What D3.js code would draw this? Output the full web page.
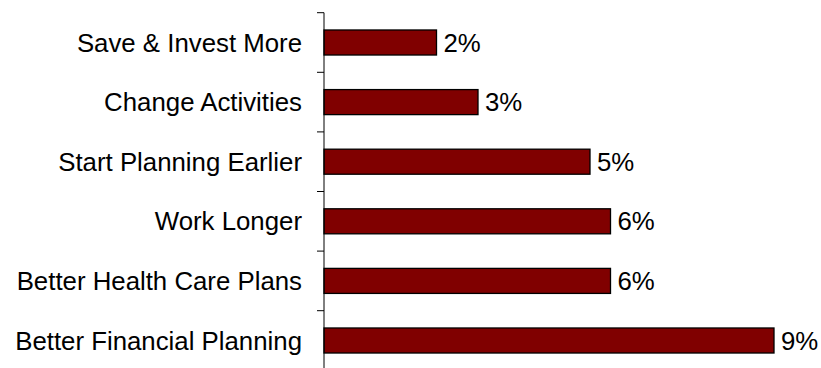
<!DOCTYPE html>
<html>
<head>
<meta charset="utf-8">
<script src="https://cdn.jsdelivr.net/npm/d3@7"></script>
<style>
  html, body { margin: 0; padding: 0; background: #fff; }
  svg { display: block; }
  text { font-family: "Liberation Sans", Arial, sans-serif; fill: #000; }
</style>
</head>
<body>
<svg id="chart" width="821" height="368"></svg>
<script>
// Reasons listed top to bottom
const categories = [
  "Save & Invest More",
  "Change Activities",
  "Start Planning Earlier",
  "Work Longer",
  "Better Health Care Plans",
  "Better Financial Planning"
];
// Share of respondents (fractions)
const values = [0.0225, 0.0308, 0.0532, 0.0573, 0.0573, 0.09];

const svg = d3.select("#chart");
const margin = { top: 12.7, left: 324 };
const plotW = 500;   // width that corresponds to 10%
const plotH = 357.6;
const fontSize = 25.8;

const x = d3.scaleLinear().domain([0, 0.10]).range([0, plotW]);
const y = d3.scaleBand()
  .domain(categories)
  .range([0, plotH])
  .paddingInner(0.58)
  .paddingOuter(0.29);

const g = svg.append("g").attr("transform", `translate(${margin.left},${margin.top})`);

// Bars
g.selectAll("rect.bar")
  .data(values)
  .join("rect")
  .attr("class", "bar")
  .attr("x", 0)
  .attr("y", (d, i) => y(categories[i]))
  .attr("width", d => x(d))
  .attr("height", y.bandwidth())
  .attr("fill", "#800000")
  .attr("stroke", "#000")
  .attr("stroke-width", 1.3);

// Value labels
const fmt = d3.format(".0%");
g.selectAll("text.val")
  .data(values)
  .join("text")
  .attr("class", "val")
  .attr("x", d => x(d) + 7)
  .attr("y", (d, i) => y(categories[i]) + y.bandwidth() / 2)
  .attr("dy", "0.35em")
  .attr("font-size", fontSize)
  .text(d => fmt(d));

// Category axis: vertical line with ticks at band boundaries
const step = y.step();
const boundaries = d3.range(categories.length + 1).map(i => i * step);
g.append("line")
  .attr("x1", 0).attr("x2", 0)
  .attr("y1", 0).attr("y2", plotH)
  .attr("stroke", "#000").attr("stroke-width", 1);
g.selectAll("line.tick")
  .data(boundaries)
  .join("line")
  .attr("class", "tick")
  .attr("x1", -7).attr("x2", 0)
  .attr("y1", d => d).attr("y2", d => d)
  .attr("stroke", "#000").attr("stroke-width", 1);

// Category labels
g.selectAll("text.cat")
  .data(categories)
  .join("text")
  .attr("class", "cat")
  .attr("x", -22)
  .attr("y", d => y(d) + y.bandwidth() / 2)
  .attr("dy", "0.35em")
  .attr("text-anchor", "end")
  .attr("font-size", fontSize)
  .text(d => d);
</script>
</body>
</html>
